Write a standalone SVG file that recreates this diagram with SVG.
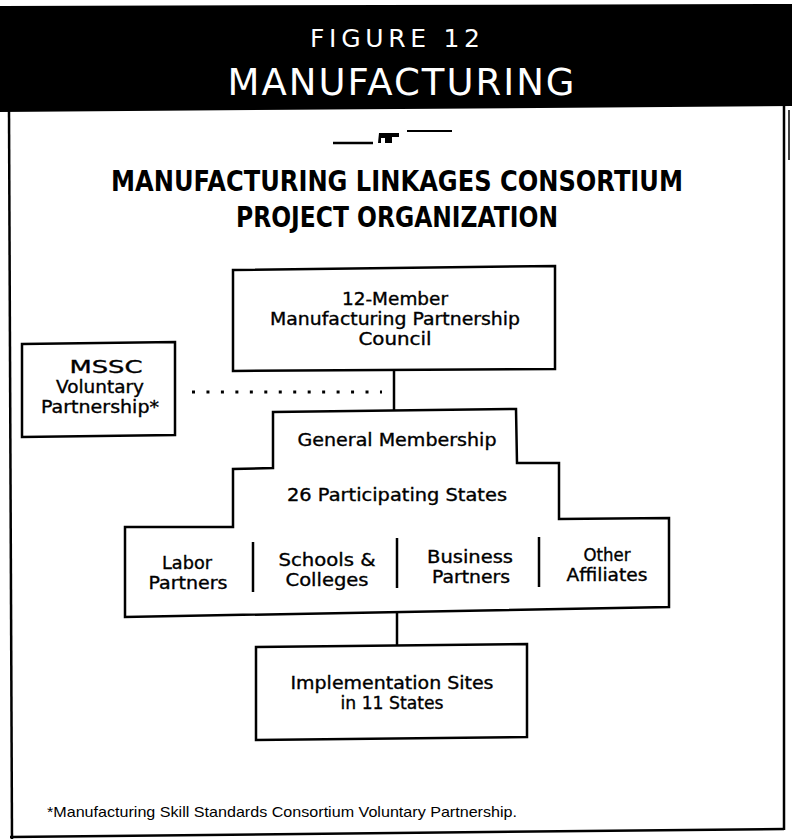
<svg xmlns="http://www.w3.org/2000/svg" width="792" height="839" viewBox="0 0 792 839">
<style>
.box{fill:#fff;stroke:#000;stroke-width:2.5;stroke-linejoin:miter}
.ln{stroke:#000;stroke-width:2.5;fill:none}
.lbl{font-family:"DejaVu Sans","Liberation Sans",sans-serif;font-size:17px;fill:#000;stroke:#000;stroke-width:0.35;text-anchor:middle}
.hdr{font-family:"DejaVu Sans","Liberation Sans",sans-serif;fill:#fff;text-anchor:middle}
.ttl{font-family:"DejaVu Sans","Liberation Sans",sans-serif;font-weight:bold;font-size:28px;fill:#000;text-anchor:middle}
.fn{font-family:"Liberation Sans","DejaVu Sans",sans-serif;font-size:15px;fill:#000}
</style>
<rect width="792" height="839" fill="#fff"/>
<g id="header">
<polygon points="0,6 792,4 792,106 0,112" fill="#000"/>
<text class="hdr" x="395" y="47" font-size="25" textLength="170" lengthAdjust="spacing">FIGURE 12</text>
<text class="hdr" x="401" y="95" font-size="37" textLength="347" lengthAdjust="spacing">MANUFACTURING</text>
</g>
<g id="frame" class="ln">
<line x1="9" y1="110" x2="12" y2="839"/>
<line x1="784" y1="106" x2="784" y2="830"/>
<line x1="10" y1="837" x2="784" y2="829"/>
<line x1="789" y1="110" x2="789" y2="160" stroke-width="1.5"/>
</g>
<g id="ornament">
<line x1="333" y1="143" x2="373" y2="143" stroke="#000" stroke-width="2.5"/>
<path d="M379,133 H399 V137 H392 V143 H385 V138 H381 V143 H378 Z" fill="#000"/>
<line x1="407" y1="131" x2="452" y2="131" stroke="#000" stroke-width="2"/>
</g>
<g id="title">
<text class="ttl" x="397" y="191" textLength="572" lengthAdjust="spacingAndGlyphs">MANUFACTURING LINKAGES CONSORTIUM</text>
<text class="ttl" x="397" y="227" textLength="322" lengthAdjust="spacingAndGlyphs">PROJECT ORGANIZATION</text>
</g>
<g id="connectors">
<line class="ln" x1="394" y1="369" x2="394" y2="411"/>
<line x1="192" y1="392" x2="382" y2="392" stroke="#000" stroke-width="3" stroke-dasharray="3 11.46"/>
<line class="ln" x1="397" y1="612" x2="397" y2="646"/>
</g>
<g id="council">
<polygon class="box" points="233,270 555,266 555,369 233,371"/>
<text class="lbl" x="395" y="305" textLength="106" lengthAdjust="spacingAndGlyphs">12-Member</text>
<text class="lbl" x="395" y="325" textLength="250" lengthAdjust="spacingAndGlyphs">Manufacturing Partnership</text>
<text class="lbl" x="395" y="345" textLength="73" lengthAdjust="spacingAndGlyphs">Council</text>
</g>
<g id="mssc">
<polygon class="box" points="22,344 175,342 175,435 22,437"/>
<text class="lbl" x="106" y="373" textLength="73" lengthAdjust="spacingAndGlyphs">MSSC</text>
<text class="lbl" x="100" y="393" textLength="88" lengthAdjust="spacingAndGlyphs">Voluntary</text>
<text class="lbl" x="100" y="413" textLength="118" lengthAdjust="spacingAndGlyphs">Partnership*</text>
</g>
<g id="membership">
<polygon class="box" points="273,412 516,409 517,463 559,463 559,519 669,518 669,607 125,617 125,527 233,527 233,469 273,468"/>
<text class="lbl" x="397" y="446" textLength="199" lengthAdjust="spacingAndGlyphs">General Membership</text>
<text class="lbl" x="397" y="501" textLength="220" lengthAdjust="spacingAndGlyphs">26 Participating States</text>
<line class="ln" x1="253" y1="542" x2="253" y2="592"/>
<line class="ln" x1="397" y1="538" x2="397" y2="588"/>
<line class="ln" x1="539" y1="537" x2="539" y2="587"/>
</g>
<g id="labor">
<text class="lbl" x="187" y="569" textLength="50" lengthAdjust="spacingAndGlyphs">Labor</text>
<text class="lbl" x="188" y="589" textLength="79" lengthAdjust="spacingAndGlyphs">Partners</text>
</g>
<g id="schools">
<text class="lbl" x="327" y="566" textLength="97" lengthAdjust="spacingAndGlyphs">Schools &amp;</text>
<text class="lbl" x="327" y="586" textLength="83" lengthAdjust="spacingAndGlyphs">Colleges</text>
</g>
<g id="business">
<text class="lbl" x="470" y="563" textLength="86" lengthAdjust="spacingAndGlyphs">Business</text>
<text class="lbl" x="471" y="583" textLength="78" lengthAdjust="spacingAndGlyphs">Partners</text>
</g>
<g id="other">
<text class="lbl" x="607" y="561" textLength="47" lengthAdjust="spacingAndGlyphs">Other</text>
<text class="lbl" x="607" y="581" textLength="81" lengthAdjust="spacingAndGlyphs">Affiliates</text>
</g>
<g id="implementation">
<polygon class="box" points="256,647 527,644 527,737 256,740"/>
<text class="lbl" x="392" y="689" textLength="203" lengthAdjust="spacingAndGlyphs">Implementation Sites</text>
<text class="lbl" x="392" y="709" textLength="103" lengthAdjust="spacingAndGlyphs">in 11 States</text>
</g>
<g id="footnote">
<text class="fn" x="47" y="817" textLength="470" lengthAdjust="spacingAndGlyphs">*Manufacturing Skill Standards Consortium Voluntary Partnership.</text>
</g>
</svg>
